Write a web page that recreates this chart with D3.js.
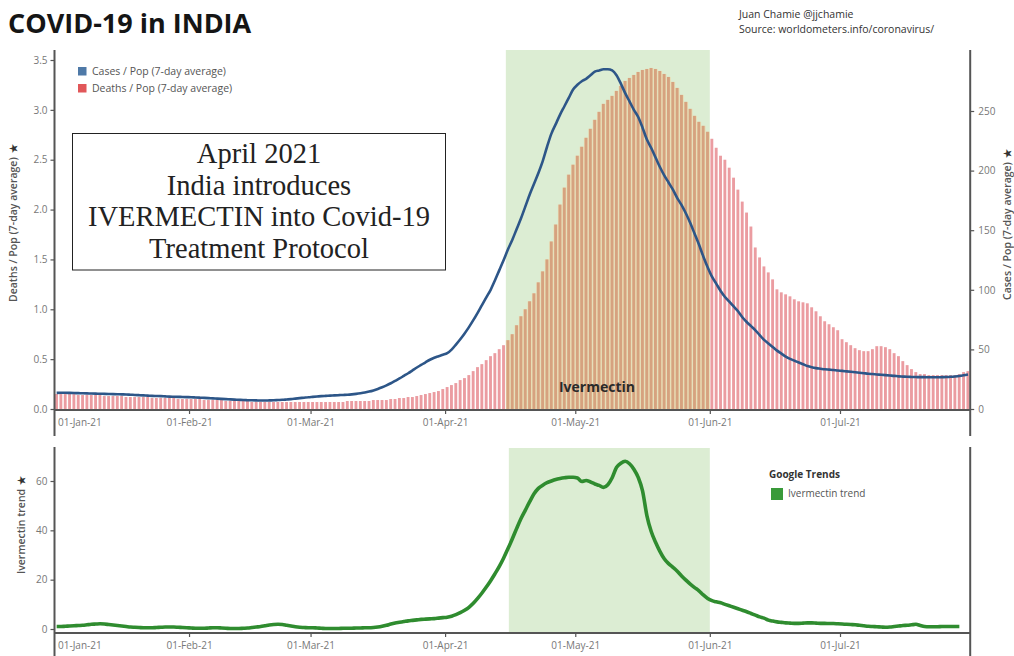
<!DOCTYPE html>
<html><head><meta charset="utf-8">
<script src="https://cdn.jsdelivr.net/npm/d3@7"></script>
<style>
body{margin:0;background:#fff}
svg{display:block}
text{font-family:"Open Sans",sans-serif}
</style>
</head><body>
<svg id="c" width="1014" height="656"></svg>
<script>
// ---------- data ----------
const startDate = "2021-01-01";
const endDate = "2021-07-31";
const monthTicks = ["2021-01-01","2021-02-01","2021-03-01","2021-04-01","2021-05-01","2021-06-01","2021-07-01"];
const bandRange = ["2021-04-15","2021-06-01"];
const ivermectinLabelDate = "2021-05-06";

// Deaths / Pop (7-day average), daily from 2021-01-01
const deaths = [
 0.15,0.15,0.15,0.15,0.15,0.14,0.14,0.14,0.14,0.14,0.14,0.13,0.13,0.13,0.13,0.13,0.12,0.12,0.12,0.12,0.12,0.12,0.11,0.11,0.11,0.11,0.11,0.11,0.10,0.10,0.10,
 0.10,0.10,0.10,0.09,0.09,0.09,0.09,0.09,0.08,0.08,0.08,0.08,0.08,0.08,0.07,0.07,0.07,0.07,0.07,0.07,0.07,0.07,0.07,0.07,0.07,0.07,0.07,0.07,
 0.07,0.07,0.07,0.07,0.07,0.07,0.07,0.07,0.08,0.08,0.08,0.08,0.08,0.08,0.09,0.09,0.09,0.09,0.10,0.10,0.11,0.11,0.12,0.12,0.13,0.14,0.15,0.16,0.17,0.18,0.20,
 0.22,0.24,0.26,0.29,0.31,0.34,0.38,0.42,0.45,0.49,0.53,0.56,0.60,0.64,0.69,0.75,0.84,0.93,1.00,1.08,1.16,1.27,1.38,1.50,1.68,1.85,2.05,2.22,2.35,2.45,
 2.54,2.63,2.72,2.81,2.90,2.98,3.06,3.10,3.14,3.19,3.24,3.29,3.32,3.35,3.38,3.40,3.41,3.42,3.41,3.39,3.36,3.33,3.28,3.22,3.15,3.08,3.01,2.94,2.88,2.84,2.78,
 2.71,2.62,2.54,2.50,2.42,2.32,2.20,2.08,1.97,1.83,1.62,1.52,1.43,1.37,1.30,1.20,1.17,1.15,1.13,1.10,1.08,1.07,1.06,1.02,0.98,0.93,0.88,0.85,0.82,0.79,
 0.70,0.67,0.64,0.61,0.59,0.58,0.58,0.60,0.63,0.63,0.62,0.60,0.56,0.53,0.48,0.44,0.40,0.37,0.35,0.35,0.34,0.34,0.34,0.34,0.34,0.34,0.34,0.35,0.37,0.38
];

// Cases / Pop (7-day average), daily from 2021-01-01
const cases = [
 13.5,13.6,13.6,13.5,13.4,13.3,13.2,13.1,13.0,12.9,12.8,12.7,12.6,12.5,12.4,12.3,12.2,12.0,11.8,11.6,11.4,11.2,11.0,10.9,10.8,10.6,10.4,10.3,10.2,10.1,10.0,
 9.9,9.7,9.5,9.3,9.1,8.9,8.7,8.5,8.3,8.1,7.9,7.7,7.5,7.4,7.3,7.2,7.1,7.1,7.2,7.3,7.5,7.7,8.0,8.3,8.7,9.1,9.5,9.9,
 10.2,10.5,10.8,11.0,11.2,11.4,11.6,11.8,12.0,12.3,12.7,13.2,13.8,14.6,15.6,16.8,18.2,19.8,21.6,23.6,25.6,27.8,30.0,32.4,34.8,37.0,39.2,41.3,43.0,44.3,45.5,
 46.8,49.8,54.0,58.5,63.4,68.7,74.5,80.7,87.2,93.6,100,108,116.5,125,134,142,151,160,170,180,189,198,208,220,231,239,247,254,261,268,
 272,275,277,280,283,284,285,285,284,280,273,265,258,251,245,236,226,219,211,203,196,190,184,177,171,164,156,147,138,128,119,
 111,105,99,94,90,86,82,77,73,69.5,66,62,58,55,52,49,46.5,44,42,40.5,39,37.5,36,35,34.3,33.8,33.3,33,32.7,32.3,
 32.0,31.6,31.2,30.8,30.4,30.0,29.6,29.3,29.0,28.7,28.4,28.1,27.8,27.4,27.2,27.0,26.9,26.8,26.7,26.7,26.6,26.6,26.6,26.7,26.8,27.0,27.3,27.7,28.3,29.0
];

// Google Trends – Ivermectin, daily from 2021-01-01
const trend = [
 1.0,1.0,1.1,1.2,1.3,1.4,1.5,1.7,1.9,2.0,2.1,2.0,1.8,1.6,1.4,1.2,1.0,0.8,0.7,0.6,0.5,0.5,0.5,0.6,0.7,0.8,0.8,0.8,0.7,0.6,0.5,
 0.4,0.3,0.3,0.3,0.4,0.5,0.5,0.4,0.3,0.2,0.2,0.2,0.3,0.4,0.6,0.8,1.0,1.3,1.6,1.8,1.9,1.8,1.5,1.2,0.9,0.7,0.6,0.5,
 0.5,0.4,0.3,0.2,0.2,0.2,0.2,0.3,0.3,0.3,0.4,0.4,0.5,0.5,0.6,0.8,1.1,1.5,2.0,2.4,2.7,3.0,3.3,3.5,3.7,3.9,4.0,4.1,4.2,4.4,4.6,
 4.8,5.2,5.8,6.6,7.6,8.8,10.4,12.4,14.6,17.0,19.6,22.4,25.4,28.8,32.6,36.6,40.8,44.8,48.2,51.6,54.8,57.0,58.3,59.3,60.0,60.6,61.0,61.3,61.5,61.5,
 61.2,59.8,60.2,59.6,58.8,58.2,57.4,58.5,61.3,65.5,67.2,68.0,67.0,64.8,61.5,56.0,46.0,39.5,35.2,31.5,28.5,26.5,25.0,23.4,21.5,19.8,18.2,16.8,15.5,13.8,12.4,
 11.5,11.0,10.6,10.0,9.4,8.8,8.2,7.6,7.0,6.3,5.6,4.9,4.4,3.6,3.2,2.9,2.7,2.5,2.4,2.3,2.3,2.4,2.5,2.5,2.4,2.3,2.3,2.2,2.2,2.1,
 2.0,1.9,1.8,1.7,1.5,1.3,1.1,1.0,0.9,0.8,0.7,0.8,1.0,1.2,1.4,1.5,1.7,1.9,1.4,1.0,0.9,0.9,0.9,1.0,1.0,1.0,1.0,1.0
];

const deathTicks = [0,0.5,1.0,1.5,2.0,2.5,3.0,3.5];
const caseTicks = [0,50,100,150,200,250];
const trendTicks = [0,20,40,60];

// ---------- drawing ----------
const parse = d3.utcParse("%Y-%m-%d");
const t0 = parse(startDate);
const dayOf = i => d3.utcDay.offset(t0, i);
const svg = d3.select("#c");
svg.append("rect").attr("width",1014).attr("height",656).attr("fill","#fff");

const L = 54.5, R = 970.2;
const x = d3.scaleUtc().domain([t0, parse(endDate)]).range([L, R]);
const dayW = x(dayOf(1)) - x(dayOf(0));

const yD = d3.scaleLinear().domain([0,3.5]).range([409,60]);
const yC = d3.scaleLinear().domain([0,250]).range([409,111]);
const yT = d3.scaleLinear().domain([0,60]).range([629,481]);

const b0 = parse(bandRange[0]), b1 = parse(bandRange[1]);
const inBand = d => d >= b0 && d < b1;

const gridC = "#555", tickTxt = "#777";

// top band
svg.append("rect").attr("x",x(b0)).attr("y",50).attr("width",x(b1)-x(b0)).attr("height",410-50).attr("fill","#dcedd3");
// bottom band
svg.append("rect").attr("x",x(b0)+3).attr("y",448).attr("width",x(b1)-x(b0)-3).attr("height",633-448).attr("fill","#dcedd3");

const dd = deaths.map((v,i)=>({d:dayOf(i), v}));
// underlay within band
svg.append("g").selectAll("rect").data(dd.filter(o=>inBand(o.d))).join("rect")
  .attr("x",o=>x(o.d)).attr("width",dayW)
  .attr("y",o=>yD(o.v)).attr("height",o=>yD(0)-yD(o.v)).attr("fill","#e9dcb4");
svg.append("g").selectAll("rect").data(dd).join("rect")
  .attr("x",o=>x(o.d)+0.6).attr("width",dayW*0.66)
  .attr("y",o=>yD(o.v)).attr("height",o=>yD(0)-yD(o.v))
  .attr("fill",o=>inBand(o.d)?"#d6a27f":"#eb9ca1");

// Ivermectin label
svg.append("text").attr("x",x(parse(ivermectinLabelDate))).attr("y",392).attr("text-anchor","middle")
  .attr("font-size",14).attr("font-weight",700).attr("fill","#2a2a2a").text("Ivermectin");

// cases line
const lineC = d3.line().x((v,i)=>x(dayOf(i))+dayW/2).y(v=>yC(v)).curve(d3.curveMonotoneX);
svg.append("path").attr("d",lineC(cases)).attr("fill","none").attr("stroke","#2d5688").attr("stroke-width",2.6);

// trend line
const lineT = d3.line().x((v,i)=>x(dayOf(i))+dayW/2).y(v=>yT(v)).curve(d3.curveMonotoneX);
svg.append("path").attr("d",lineT(trend)).attr("fill","none").attr("stroke","#2f8c2f").attr("stroke-width",3.6).attr("stroke-linejoin","round");

// axes
function styleAxis(g){
  g.select(".domain").remove();
  g.selectAll("line").attr("stroke",gridC).attr("stroke-width",1.2);
  g.selectAll("text").attr("fill",tickTxt).attr("font-size",10).attr("font-family","'Open Sans',sans-serif");
}
const fmtDate = d3.utcFormat("%d-%b-%y");
const mt = monthTicks.map(parse);
function xAxis(y){
  const g = svg.append("g").attr("transform",`translate(0,${y})`)
    .call(d3.axisBottom(x).tickValues(mt).tickFormat(fmtDate).tickSize(4).tickPadding(5));
  styleAxis(g);
  g.selectAll(".tick").filter(d=>+d===+mt[0]).select("text").attr("text-anchor","start").attr("x",3);
  g.selectAll(".tick").filter(d=>+d===+mt[0]).select("line").remove();
}
xAxis(410);
xAxis(633);

const gl = svg.append("g").attr("transform",`translate(${L},0)`)
  .call(d3.axisLeft(yD).tickValues(deathTicks).tickFormat(d3.format(".1f")).tickSize(4).tickPadding(3));
styleAxis(gl);
const gr = svg.append("g").attr("transform",`translate(${R},0)`)
  .call(d3.axisRight(yC).tickValues(caseTicks).tickSize(4).tickPadding(4));
styleAxis(gr);
const gb = svg.append("g").attr("transform",`translate(${L},0)`)
  .call(d3.axisLeft(yT).tickValues(trendTicks).tickSize(4).tickPadding(3));
styleAxis(gb);

// axis lines
const ax = (x1,y1,x2,y2)=>svg.append("line").attr("x1",x1).attr("y1",y1).attr("x2",x2).attr("y2",y2).attr("stroke",gridC).attr("stroke-width",2);
ax(L,50,L,436); ax(R,50,R,436); ax(L,410,R,410);
ax(L,447,L,656); ax(R,447,R,656); ax(L,633,R,633);

// axis titles
function vTitle(tx, ty, label){
  const t = svg.append("text").attr("transform",`translate(${tx},${ty}) rotate(-90)`)
    .attr("font-size",10.5).attr("font-weight",600).attr("fill","#555");
  t.append("tspan").text(label);
  t.append("tspan").attr("dx",4).attr("font-size",10).attr("fill","#333").text("★");
}
vTitle(17,302,"Deaths / Pop (7-day average)");
vTitle(1011,300,"Cases / Pop (7-day average)");
vTitle(25,574,"Ivermectin trend");

// title & credits
svg.append("text").attr("x",8).attr("y",33).attr("font-size",27).attr("font-weight",700).attr("fill","#151515").text("COVID-19 in INDIA");
svg.append("text").attr("x",739).attr("y",18).attr("font-size",10.5).attr("fill","#333").text("Juan Chamie @jjchamie");
svg.append("text").attr("x",739).attr("y",33).attr("font-size",10.5).attr("fill","#333").text("Source: worldometers.info/coronavirus/");

// top legend
const legend = [["Cases / Pop (7-day average)","#4e79a7"],["Deaths / Pop (7-day average)","#e15759"]];
legend.forEach((l,i)=>{
  svg.append("rect").attr("x",78).attr("y",67+i*17).attr("width",8.5).attr("height",8.5).attr("fill",l[1]);
  svg.append("text").attr("x",92).attr("y",75+i*17).attr("font-size",10.5).attr("fill","#555").text(l[0]);
});

// Google Trends legend
svg.append("text").attr("x",769).attr("y",478).attr("font-size",10).attr("font-weight",700).attr("fill","#333").text("Google Trends");
svg.append("rect").attr("x",771).attr("y",488).attr("width",12).attr("height",12).attr("fill","#3a9a3a");
svg.append("text").attr("x",788).attr("y",497).attr("font-size",10).attr("fill","#555").text("Ivermectin trend");

// annotation box
svg.append("rect").attr("x",72.5).attr("y",133.5).attr("width",373).attr("height",136.5)
  .attr("fill","#fff").attr("stroke","#222").attr("stroke-width",1);
const annLines = ["April 2021","India introduces","IVERMECTIN into Covid-19","Treatment Protocol"];
annLines.forEach((s,i)=>{
  svg.append("text").attr("x",259).attr("y",163+i*31.7).attr("text-anchor","middle")
    .style("font-family","'Liberation Serif',serif")
    .attr("font-size",28.5).attr("fill","#222").text(s);
});
</script>
</body></html>
